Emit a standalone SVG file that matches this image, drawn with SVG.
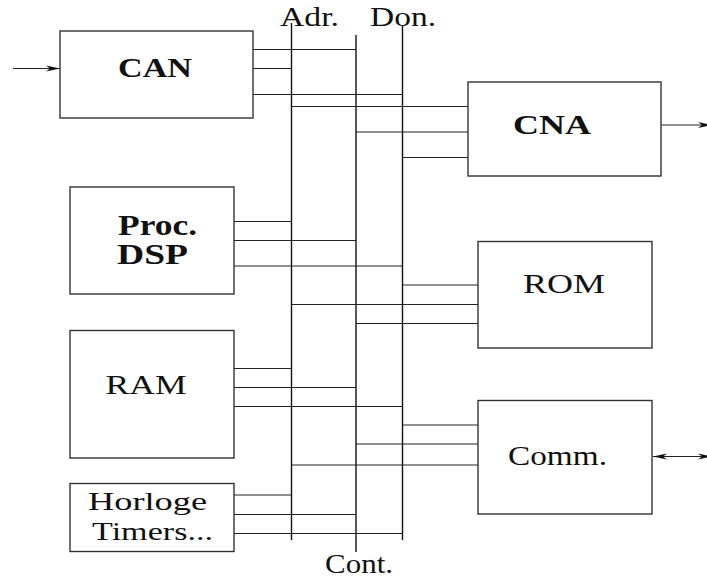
<svg xmlns="http://www.w3.org/2000/svg" width="707" height="578" viewBox="0 0 707 578">
<style>
.box{fill:#fff;stroke:#333;stroke-width:1.4}
.ln{stroke:#222;stroke-width:1.2;fill:none}
.bus{stroke:#111;stroke-width:1.4;fill:none}
text{font-family:"Liberation Serif","Times New Roman",serif;font-size:27px;fill:#111}
.b{font-weight:bold}
</style>
<defs>
<marker id="ah" markerWidth="14" markerHeight="8" refX="14" refY="4" orient="auto-start-reverse" markerUnits="userSpaceOnUse">
<path d="M0,1 L14,4 L0,7 L4,4 z" fill="#111"/>
</marker>
</defs>
<rect width="707" height="578" fill="#fff"/>
<g id="labels">
<text x="280" y="26" textLength="59" lengthAdjust="spacingAndGlyphs">Adr.</text>
<text x="370" y="26" textLength="66" lengthAdjust="spacingAndGlyphs">Don.</text>
<text x="325" y="573" textLength="68" lengthAdjust="spacingAndGlyphs">Cont.</text>
</g>
<g id="connectors">
<line class="bus" x1="291.5" y1="23" x2="291.5" y2="540"/>
<line class="bus" x1="356" y1="35" x2="356" y2="552"/>
<line class="bus" x1="402.5" y1="25" x2="402.5" y2="540"/>
<line class="ln" x1="253" y1="49.5" x2="356" y2="49.5"/>
<line class="ln" x1="253" y1="68.5" x2="291.5" y2="68.5"/>
<line class="ln" x1="253" y1="94.5" x2="402.5" y2="94.5"/>
<line class="ln" x1="13" y1="68.5" x2="60" y2="68.5" marker-end="url(#ah)"/>
<line class="ln" x1="291.5" y1="106.5" x2="468" y2="106.5"/>
<line class="ln" x1="356" y1="132" x2="468" y2="132"/>
<line class="ln" x1="402.5" y1="157.5" x2="468" y2="157.5"/>
<line class="ln" x1="661" y1="125" x2="712" y2="125" marker-end="url(#ah)"/>
<line class="ln" x1="234" y1="221.5" x2="291.5" y2="221.5"/>
<line class="ln" x1="234" y1="240.5" x2="356" y2="240.5"/>
<line class="ln" x1="234" y1="266" x2="402.5" y2="266"/>
<line class="ln" x1="402.5" y1="285" x2="478" y2="285"/>
<line class="ln" x1="291.5" y1="304.5" x2="478" y2="304.5"/>
<line class="ln" x1="356" y1="323.5" x2="478" y2="323.5"/>
<line class="ln" x1="234" y1="368.5" x2="291.5" y2="368.5"/>
<line class="ln" x1="234" y1="387.5" x2="356" y2="387.5"/>
<line class="ln" x1="234" y1="406.5" x2="402.5" y2="406.5"/>
<line class="ln" x1="402.5" y1="425" x2="478" y2="425"/>
<line class="ln" x1="356" y1="444" x2="478" y2="444"/>
<line class="ln" x1="291.5" y1="465" x2="478" y2="465"/>
<line class="ln" x1="653" y1="456.5" x2="712" y2="456.5" marker-start="url(#ah)" marker-end="url(#ah)"/>
<line class="ln" x1="234" y1="495" x2="291.5" y2="495"/>
<line class="ln" x1="234" y1="514.5" x2="356" y2="514.5"/>
<line class="ln" x1="234" y1="533.5" x2="402.5" y2="533.5"/>
</g>
<g id="can">
<rect class="box" x="60" y="31" width="193" height="87"/>
<text class="b" x="118" y="76.5" textLength="74" lengthAdjust="spacingAndGlyphs">CAN</text>
</g>
<g id="cna">
<rect class="box" x="468" y="82" width="193" height="94"/>
<text class="b" x="513" y="133.5" textLength="78" lengthAdjust="spacingAndGlyphs">CNA</text>
</g>
<g id="dsp">
<rect class="box" x="70" y="187" width="164" height="107"/>
<text class="b" x="118" y="235" textLength="79" lengthAdjust="spacingAndGlyphs" style="font-size:29px">Proc.</text>
<text class="b" x="117" y="264" textLength="71" lengthAdjust="spacingAndGlyphs" style="font-size:29px">DSP</text>
</g>
<g id="rom">
<rect class="box" x="478" y="241.5" width="174" height="106.5"/>
<text x="523" y="293" textLength="82" lengthAdjust="spacingAndGlyphs">ROM</text>
</g>
<g id="ram">
<rect class="box" x="70" y="330.5" width="164" height="127.5"/>
<text x="105.5" y="394" textLength="81" lengthAdjust="spacingAndGlyphs">RAM</text>
</g>
<g id="comm">
<rect class="box" x="478" y="400.5" width="174" height="113.5"/>
<text x="508" y="465" textLength="99" lengthAdjust="spacingAndGlyphs">Comm.</text>
</g>
<g id="horloge">
<rect class="box" x="70" y="483.5" width="164" height="68"/>
<text x="88" y="510" textLength="119" lengthAdjust="spacingAndGlyphs" style="font-size:26px">Horloge</text>
<text x="92" y="540" textLength="121" lengthAdjust="spacingAndGlyphs" style="font-size:26px">Timers...</text>
</g>
</svg>
